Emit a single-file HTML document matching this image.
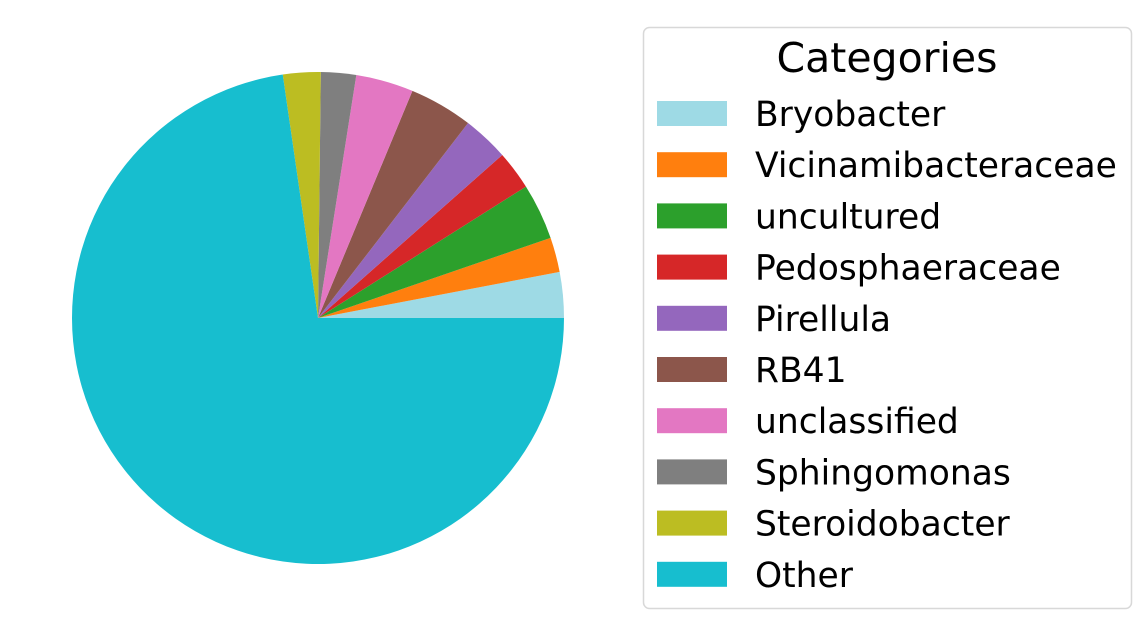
<!DOCTYPE html>
<html><head><meta charset="utf-8"><style>
body{margin:0;background:#fff;width:1142px;height:636px;overflow:hidden;font-family:"DejaVu Sans","Liberation Sans",sans-serif}
</style></head><body>
<svg id="chart" width="1142" height="636" xmlns="http://www.w3.org/2000/svg" font-family="DejaVu Sans, Liberation Sans, sans-serif">
<g id="slices"></g>
<g id="legend">
<rect x="643.5" y="27.5" width="488" height="581" rx="6" fill="#fff" stroke="#d8d8d8" stroke-width="1.5"/>
<text x="887" y="72" font-size="41" text-anchor="middle" fill="#000">Categories</text>
</g>
</svg>
<script>
const categories=["Bryobacter","Vicinamibacteraceae","uncultured","Pedosphaeraceae","Pirellula","RB41","unclassified","Sphingomonas","Steroidobacter","Other"];
const values=[3.0,2.28,3.69,2.56,3.03,4.17,3.78,2.31,2.47,72.71];
const colors=["#9edae5","#ff7f0e","#2ca02c","#d62728","#9467bd","#8c564b","#e377c2","#7f7f7f","#bcbd22","#17becf"];
const NS="http://www.w3.org/2000/svg";
const cx=318,cy=318,r=246;
const total=values.reduce((a,b)=>a+b,0);
let a0=0;
const sl=document.getElementById('slices');
values.forEach((v,i)=>{
  const a1=a0+v/total*2*Math.PI;
  const x0=cx+r*Math.cos(a0),y0=cy-r*Math.sin(a0);
  const x1=cx+r*Math.cos(a1),y1=cy-r*Math.sin(a1);
  const large=(a1-a0)>Math.PI?1:0;
  const p=document.createElementNS(NS,'path');
  p.setAttribute('d',`M${cx},${cy} L${x0},${y0} A${r},${r} 0 ${large} 0 ${x1},${y1} Z`);
  p.setAttribute('fill',colors[i]);
  
  
  sl.appendChild(p);
  a0=a1;
});
const lg=document.getElementById('legend');
categories.forEach((c,i)=>{
  const y=114+i*51.2;
  const rc=document.createElementNS(NS,'rect');
  rc.setAttribute('x',657);rc.setAttribute('y',y-13);rc.setAttribute('width',70);rc.setAttribute('height',25);
  rc.setAttribute('fill',colors[i]);
  
  
  lg.appendChild(rc);
  const t=document.createElementNS(NS,'text');
  t.setAttribute('x',755);t.setAttribute('y',y+12);t.setAttribute('font-size',34.5);
  t.textContent=c;
  
  
  lg.appendChild(t);
});
</script>
</body></html>
